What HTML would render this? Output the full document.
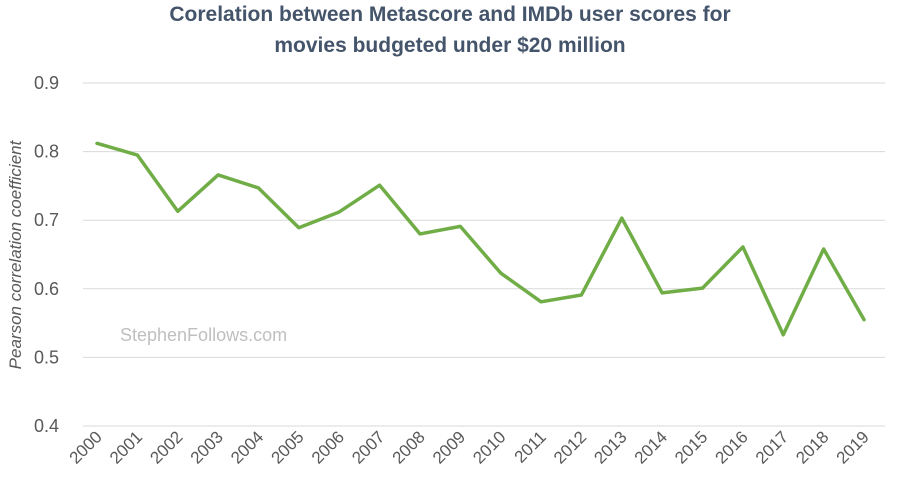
<!DOCTYPE html>
<html><head><meta charset="utf-8">
<style>
html,body{margin:0;padding:0;background:#fff;}
body{width:900px;height:495px;overflow:hidden;font-family:"Liberation Sans",sans-serif;}
</style></head>
<body>
<svg id="chart" width="900" height="495" xmlns="http://www.w3.org/2000/svg">
<text x="450" y="21" text-anchor="middle" font-size="21" font-weight="bold" fill="#44546a">Corelation between Metascore and IMDb user scores for</text>
<text x="450" y="52" text-anchor="middle" font-size="21" font-weight="bold" fill="#44546a">movies budgeted under $20 million</text>
<text transform="translate(21,255) rotate(-90)" text-anchor="middle" font-size="17" font-style="italic" fill="#595959">Pearson correlation coefficient</text>
<text x="120" y="341" font-size="18" fill="#bfbfbf">StephenFollows.com</text>
<g id="grid"></g><g id="yticks"></g><g id="xticks"></g><g id="series"></g>
</svg>
<script>
const years = ["2000","2001","2002","2003","2004","2005","2006","2007","2008","2009","2010","2011","2012","2013","2014","2015","2016","2017","2018","2019"];
const correlation = [0.812,0.795,0.713,0.766,0.747,0.689,0.712,0.751,0.680,0.691,0.623,0.581,0.591,0.703,0.594,0.601,0.661,0.533,0.658,0.555];
const yTickValues = [0.4,0.5,0.6,0.7,0.8,0.9];
const yTickLabels = ["0.4","0.5","0.6","0.7","0.8","0.9"];

const NS="http://www.w3.org/2000/svg";
const yMin=0.4,yMax=0.9,yTop=83,yBot=426,xLeft=97,xRight=864,gridL=83,gridR=885;
function yScale(v){return yBot-(v-yMin)/(yMax-yMin)*(yBot-yTop);}
function xScale(i){return xLeft+i*(xRight-xLeft)/(years.length-1);}
function mk(tag,attrs,parent){const e=document.createElementNS(NS,tag);for(const k in attrs)e.setAttribute(k,attrs[k]);parent.appendChild(e);return e;}
const grid=document.getElementById('grid'),yt=document.getElementById('yticks'),xt=document.getElementById('xticks'),ser=document.getElementById('series');
yTickValues.forEach((v,i)=>{
  const y=yScale(v);
  const l=mk('line',{x1:gridL,x2:gridR,y1:y,y2:y,stroke:'#d9d9d9','stroke-width':1},grid);
  
  
  const t=mk('text',{x:59,y:y+6,'text-anchor':'end','font-size':18,fill:'#595959'},yt);
  t.textContent=yTickLabels[i];
  
  
});
years.forEach((yr,i)=>{
  const x=xScale(i);
  const t=mk('text',{transform:`translate(${x+6},${yBot+12}) rotate(-45)`,'text-anchor':'end','font-size':17,fill:'#595959'},xt);
  t.textContent=yr;
  
  
});
const pts=correlation.map((v,i)=>xScale(i)+','+yScale(v)).join(' ');
const pl=mk('polyline',{points:pts,fill:'none',stroke:'#70ad47','stroke-width':3.5,'stroke-linejoin':'round','stroke-linecap':'round'},ser);


</script>
</body></html>
